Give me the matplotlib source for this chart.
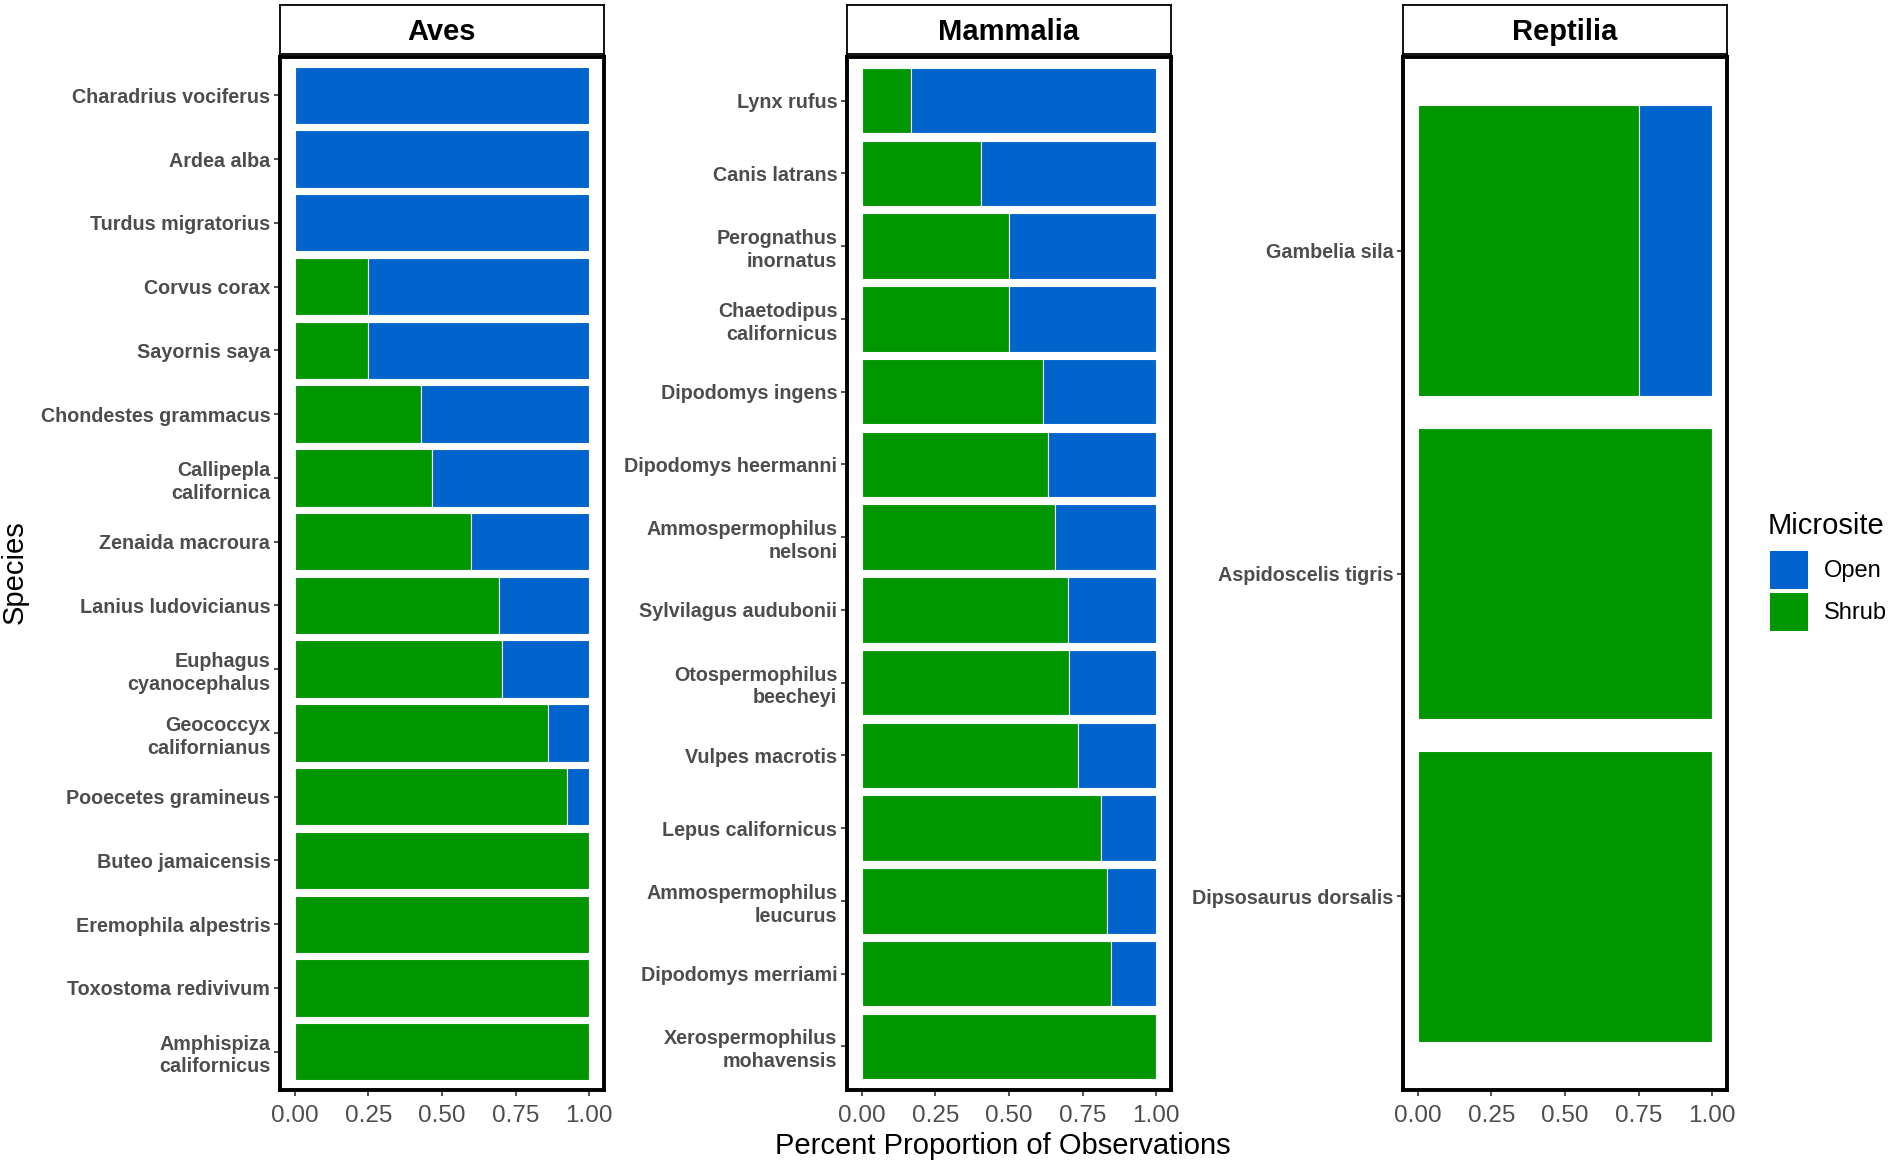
import matplotlib
matplotlib.use("Agg")
import matplotlib.pyplot as plt
from matplotlib.patches import Patch

plt.rcParams['font.family'] = ['Liberation Sans', 'DejaVu Sans']

# ---------------- data ----------------
class_names = ["Aves", "Mammalia", "Reptilia"]
microsites = ["Open", "Shrub"]
colors = {"Open": "#0064CC", "Shrub": "#009600"}
x_ticks = [0.0, 0.25, 0.5, 0.75, 1.0]
x_ticklabels = ["0.00", "0.25", "0.50", "0.75", "1.00"]

aves_species = ["Charadrius vociferus", "Ardea alba", "Turdus migratorius",
                "Corvus corax", "Sayornis saya", "Chondestes grammacus",
                "Callipepla\ncalifornica", "Zenaida macroura",
                "Lanius ludovicianus", "Euphagus\ncyanocephalus",
                "Geococcyx\ncalifornianus", "Pooecetes gramineus",
                "Buteo jamaicensis", "Eremophila alpestris",
                "Toxostoma redivivum", "Amphispiza\ncalifornicus"]
aves_shrub = [0.0, 0.0, 0.0, 0.25, 0.25, 0.43, 0.466, 0.60,
              0.693, 0.705, 0.859, 0.925, 1.0, 1.0, 1.0, 1.0]
aves_open = [1.0, 1.0, 1.0, 0.75, 0.75, 0.57, 0.534, 0.40,
             0.307, 0.295, 0.141, 0.075, 0.0, 0.0, 0.0, 0.0]

mammalia_species = ["Lynx rufus", "Canis latrans", "Perognathus\ninornatus",
                    "Chaetodipus\ncalifornicus", "Dipodomys ingens",
                    "Dipodomys heermanni", "Ammospermophilus\nnelsoni",
                    "Sylvilagus audubonii", "Otospermophilus\nbeecheyi",
                    "Vulpes macrotis", "Lepus californicus",
                    "Ammospermophilus\nleucurus", "Dipodomys merriami",
                    "Xerospermophilus\nmohavensis"]
mammalia_shrub = [0.167, 0.405, 0.50, 0.50, 0.617, 0.634, 0.656,
                  0.699, 0.703, 0.733, 0.812, 0.834, 0.847, 1.0]
mammalia_open = [0.833, 0.595, 0.50, 0.50, 0.383, 0.366, 0.344,
                 0.301, 0.297, 0.267, 0.188, 0.166, 0.153, 0.0]

reptilia_species = ["Gambelia sila", "Aspidoscelis tigris", "Dipsosaurus dorsalis"]
reptilia_shrub = [0.75, 1.0, 1.0]
reptilia_open = [0.25, 0.0, 0.0]

panels = [
    (class_names[0], aves_species, aves_shrub, aves_open),
    (class_names[1], mammalia_species, mammalia_shrub, mammalia_open),
    (class_names[2], reptilia_species, reptilia_shrub, reptilia_open),
]

# ---------------- layout ----------------
W, H = 1890, 1165
fig = plt.figure(figsize=(W / 100, H / 100), dpi=100)

lefts = [280 / W, 847 / W, 1403 / W]
pw = 324 / W
pb = 1 - 1090 / H
ph = (1090 - 57) / H
sb = 1 - 53.6 / H
sh = (53.6 - 5.4) / H

tick_grey = "#4D4D4D"

for (name, species, shrub, opn), left in zip(panels, lefts):
    ax = fig.add_axes([left, pb, pw, ph])
    n = len(species)
    pos = list(range(n))
    ax.barh(pos, shrub, height=0.9, color=colors["Shrub"],
            edgecolor="white", linewidth=0.8)
    ax.barh(pos, opn, left=shrub, height=0.9, color=colors["Open"],
            edgecolor="white", linewidth=0.8)
    ax.set_xlim(-0.05, 1.05)
    ax.set_ylim(n - 0.4, -0.6)
    ax.set_xticks(x_ticks)
    ax.set_xticklabels(x_ticklabels, fontsize=17.5, color=tick_grey)
    ax.set_yticks(pos)
    ax.set_yticklabels(species, fontsize=14.2, fontweight="bold",
                       color=tick_grey, linespacing=1.25)
    ax.tick_params(axis="both", length=4, width=1.2, color="#333333")
    ax.tick_params(axis="x", pad=6.5)
    ax.tick_params(axis="y", pad=3)
    for sp in ax.spines.values():
        sp.set_linewidth(2.8)
        sp.set_color("black")

    sax = fig.add_axes([left, sb, pw, sh])
    sax.set_xticks([])
    sax.set_yticks([])
    for sp in sax.spines.values():
        sp.set_linewidth(1.3)
        sp.set_color("black")
    sax.text(0.5, 0.45, name, transform=sax.transAxes, ha="center",
             va="center", fontsize=21, fontweight="bold", color="black")

fig.text(1003 / W, 1 - 1146 / H, "Percent Proportion of Observations",
         ha="center", va="center", fontsize=21, color="black")
fig.text(15 / W, 1 - 572 / H, "Species", ha="center", va="center",
         rotation=90, fontsize=21, color="black")

# legend: title as text, keys below
fig.text(1768 / W, 1 - 534 / H, "Microsite", ha="left", va="baseline",
         fontsize=21, color="black")
handles = [Patch(facecolor=colors[m], edgecolor="none", label=m) for m in microsites]
leg = fig.legend(handles=handles, loc="upper left",
                 bbox_to_anchor=(1770 / W, 1 - 551 / H), frameon=False,
                 fontsize=17, handlelength=1.6,
                 handleheight=2.1, labelspacing=0.17, handletextpad=0.7,
                 borderpad=0, borderaxespad=0)

fig.savefig("out.png", dpi=100, facecolor="white")
